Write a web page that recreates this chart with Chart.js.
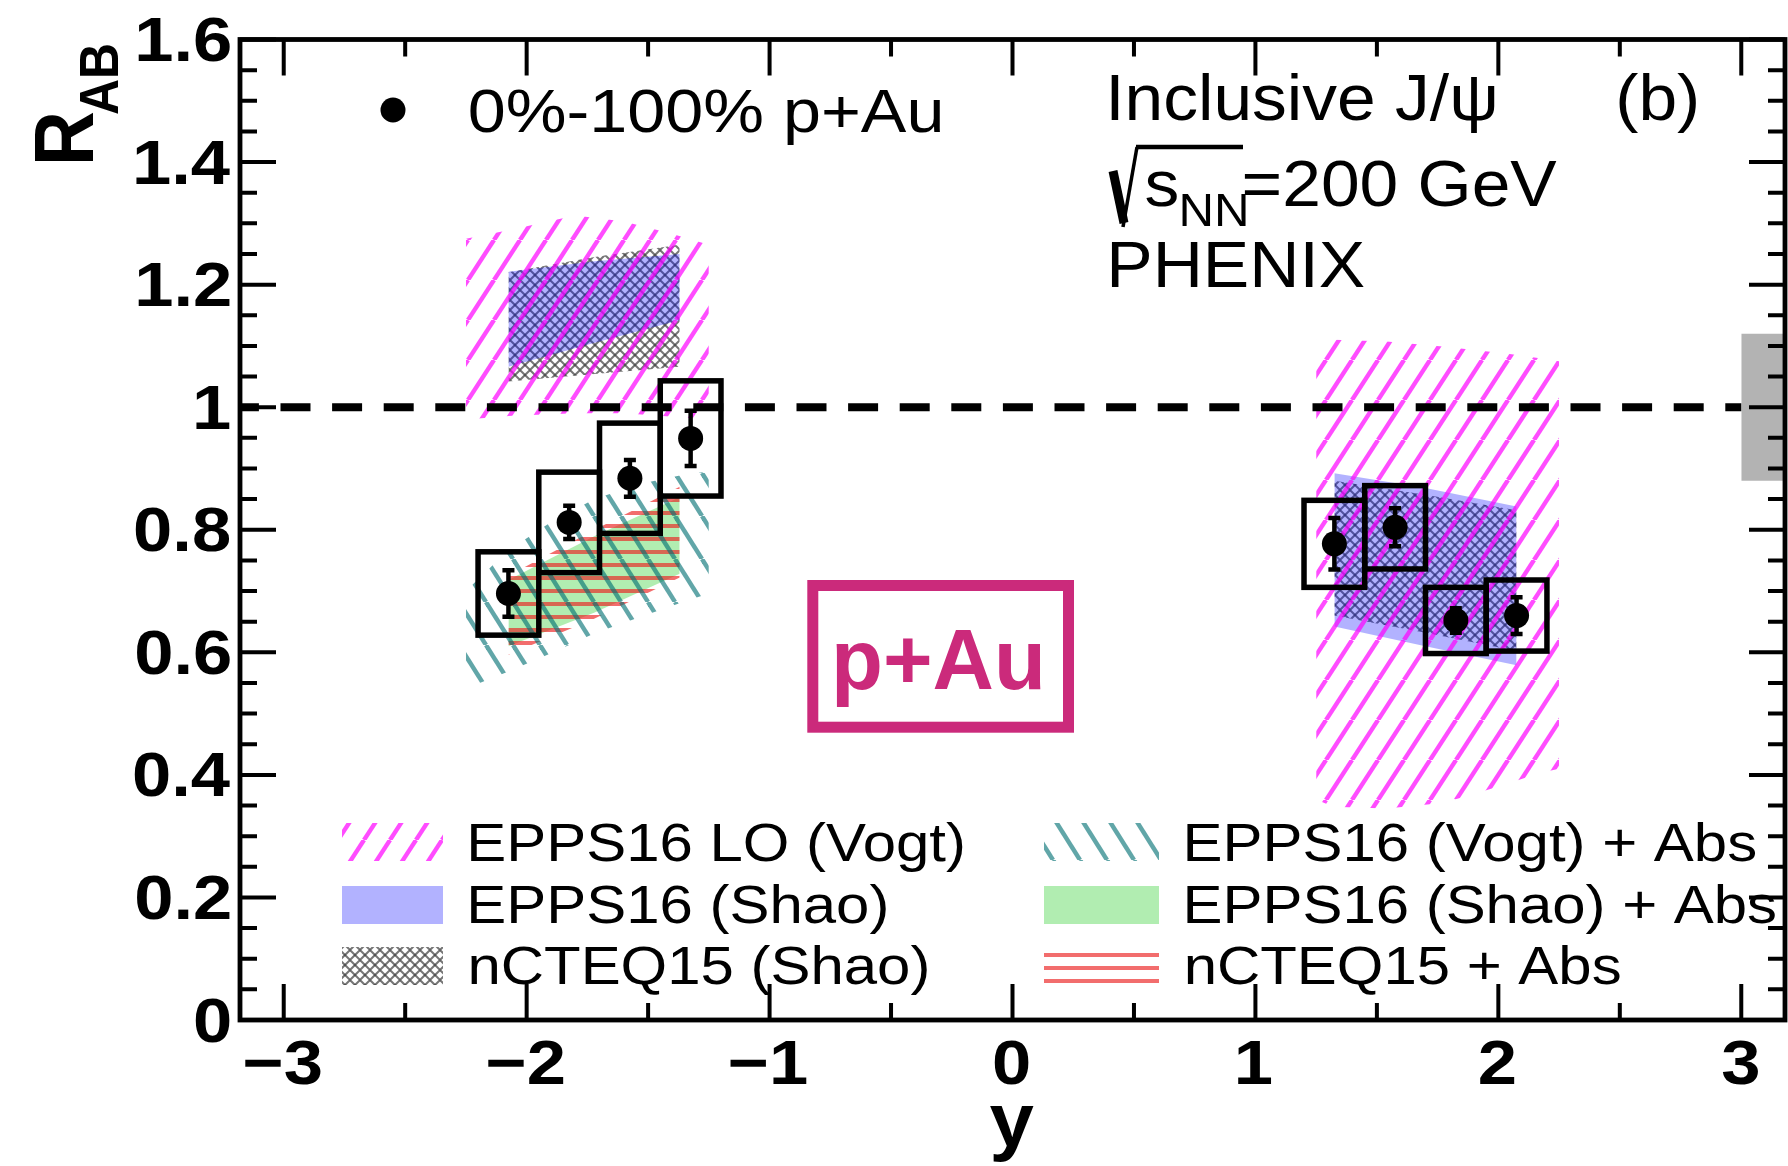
<!DOCTYPE html>
<html lang="en">
<head>
<meta charset="utf-8">
<title>PHENIX inclusive J/psi R_AB in p+Au</title>
<script src="https://cdn.jsdelivr.net/npm/chart.js@4.4.1/dist/chart.umd.min.js"></script>
<style>
  html, body { margin: 0; padding: 0; background: #ffffff; }
  canvas { display: block; }
</style>
</head>
<body>
<canvas id="rab" width="1788" height="1166"></canvas>
<script>
// ---------------------------------------------------------------------------
// Inclusive J/psi nuclear modification factor, 0%-100% p+Au, sqrt(sNN)=200 GeV
// ---------------------------------------------------------------------------
const rapidity   = [-2.075, -1.825, -1.575, -1.325, 1.325, 1.575, 1.825, 2.075];
const rabValue   = [0.696, 0.812, 0.884, 0.949, 0.777, 0.804, 0.652, 0.660];
const statError  = [0.038, 0.027, 0.030, 0.045, 0.042, 0.031, 0.020, 0.030];
const systError  = [0.068, 0.082, 0.090, 0.094, 0.071, 0.068, 0.054, 0.058];
const binHalfWidth = 0.125;
const globalSyst = 0.12;       // global scale uncertainty box drawn at unity
const globalSystFrom = 3.0;

// Model bands: rapidity nodes with lower / upper R_AB
const vogtLoBwdY  = [-2.25, -2.06, -1.80, -1.60, -1.41, -1.25];
const vogtLoBwdLo = [0.980, 0.986, 0.990, 0.990, 0.985, 0.980];
const vogtLoBwdHi = [1.275, 1.290, 1.313, 1.303, 1.284, 1.265];
const vogtLoFwdY  = [1.25, 1.32, 1.54, 1.77, 1.91, 2.04, 2.17, 2.25];
const vogtLoFwdLo = [0.360, 0.348, 0.345, 0.354, 0.370, 0.386, 0.403, 0.410];
const vogtLoFwdHi = [1.110, 1.110, 1.107, 1.099, 1.093, 1.087, 1.080, 1.075];

const shaoBwdY  = [-2.075, -1.72, -1.37];
const shaoBwdLo = [1.066, 1.105, 1.142];
const shaoBwdHi = [1.221, 1.238, 1.250];
const shaoFwdY  = [1.325, 1.70, 2.075];
const shaoFwdLo = [0.642, 0.610, 0.579];
const shaoFwdHi = [0.892, 0.868, 0.838];

const ncteqBwdY  = [-2.075, -1.72, -1.37];
const ncteqBwdLo = [1.042, 1.054, 1.066];
const ncteqBwdHi = [1.220, 1.245, 1.265];
const ncteqFwdY  = [1.325, 1.70, 2.075];
const ncteqFwdLo = [0.660, 0.632, 0.602];
const ncteqFwdHi = [0.880, 0.857, 0.832];

const vogtAbsBwdY  = [-2.25, -2.08, -1.89, -1.72, -1.53, -1.35, -1.25];
const vogtAbsBwdLo = [0.541, 0.568, 0.600, 0.631, 0.658, 0.683, 0.696];
const vogtAbsBwdHi = [0.700, 0.765, 0.815, 0.850, 0.875, 0.890, 0.895];

const shaoAbsBwdY  = [-2.075, -1.72, -1.37];
const shaoAbsBwdLo = [0.610, 0.665, 0.728];
const shaoAbsBwdHi = [0.718, 0.790, 0.853];

const ncteqAbsBwdY  = [-2.075, -1.72, -1.37];
const ncteqAbsBwdLo = [0.596, 0.655, 0.722];
const ncteqAbsBwdHi = [0.725, 0.800, 0.870];

// Axes
const X_MIN = -3.18, X_MAX = 3.18, Y_MIN = 0, Y_MAX = 1.6;
const xTickValues = [-3, -2, -1, 0, 1, 2, 3];
const xTickLabels = ['\u22123', '\u22122', '\u22121', '0', '1', '2', '3'];
const yTickValues = [0, 0.2, 0.4, 0.6, 0.8, 1.0, 1.2, 1.4, 1.6];
const yTickLabels = ['0', '0.2', '0.4', '0.6', '0.8', '1', '1.2', '1.4', '1.6'];
const xMinorStep = 0.5, yMinorStep = 0.05;

const modelLabels = ['EPPS16 LO (Vogt)', 'EPPS16 (Shao)', 'nCTEQ15 (Shao)',
                     'EPPS16 (Vogt) + Abs', 'EPPS16 (Shao) + Abs', 'nCTEQ15 + Abs'];
const dataLabel = '0%-100% p+Au';

// ---------------------------------------------------------------------------
const canvas = document.getElementById('rab');
const ctx = canvas.getContext('2d');

function tilePattern(w, h, paint) {
  const t = document.createElement('canvas');
  t.width = w; t.height = h;
  paint(t.getContext('2d'), w, h);
  return ctx.createPattern(t, 'repeat');
}
function diagonalHatch(color, lineWidth, spacing, angleDeg, rising) {
  const h = Math.round(spacing * Math.tan(angleDeg * Math.PI / 180));
  return tilePattern(spacing, h, (g, w, hh) => {
    g.strokeStyle = color; g.lineWidth = lineWidth;
    for (const o of [-w, 0, w]) {
      g.beginPath();
      if (rising) { g.moveTo(o, hh); g.lineTo(o + w, 0); }
      else { g.moveTo(o, 0); g.lineTo(o + w, hh); }
      g.stroke();
    }
  });
}
const magentaHatch = diagonalHatch('rgba(255,0,255,0.7)', 4.4, 26, 57, true);
const tealHatch    = diagonalHatch('rgba(0,112,115,0.62)', 4.4, 27, 58, false);
const redLines = tilePattern(16, 13, (g, w) => {
  g.fillStyle = 'rgba(235,30,30,0.65)';
  g.fillRect(0, 4, w, 4);
});
const meshPattern = tilePattern(10, 10, (g, w, h) => {
  g.strokeStyle = 'rgba(60,60,60,0.7)'; g.lineWidth = 2;
  for (const o of [-w, 0, w]) {
    g.beginPath(); g.moveTo(o, 0); g.lineTo(o + w, h); g.stroke();
    g.beginPath(); g.moveTo(o, h); g.lineTo(o + w, 0); g.stroke();
  }
});
const blueFill  = 'rgba(0,0,255,0.3)';
const greenFill = 'rgba(60,210,60,0.4)';
const globalFill = '#b3b3b3';

// ---------------------------------------------------------------------------
const datasets = [];
function addBand(label, ys, lo, hi, fillStyle, order) {
  datasets.push({
    label, data: ys.map((x, i) => ({ x, y: hi[i] })),
    fill: '+1', backgroundColor: fillStyle,
    borderColor: 'rgba(0,0,0,0)', borderWidth: 0, pointRadius: 0, order
  });
  datasets.push({
    label: label + ' lower', data: ys.map((x, i) => ({ x, y: lo[i] })),
    fill: false, borderColor: 'rgba(0,0,0,0)', borderWidth: 0, pointRadius: 0, order
  });
}

// data points on top (lowest order is drawn last)
datasets.push({
  label: dataLabel,
  data: rapidity.map((x, i) => ({ x, y: rabValue[i] })),
  showLine: false, pointRadius: 12.5, pointHoverRadius: 12.5,
  pointBackgroundColor: '#000', pointBorderColor: '#000', pointBorderWidth: 0,
  order: 0
});
datasets.push({
  label: 'unity',
  data: [{ x: X_MIN, y: 1 }, { x: globalSystFrom, y: 1 }],
  borderColor: '#000', borderWidth: 8, borderDash: [30, 21.6], borderDashOffset: 11.1,
  pointRadius: 0, fill: false, order: 5
});
addBand(modelLabels[3] + ' bwd', vogtAbsBwdY, vogtAbsBwdLo, vogtAbsBwdHi, tealHatch, 14);
addBand(modelLabels[5] + ' bwd', ncteqAbsBwdY, ncteqAbsBwdLo, ncteqAbsBwdHi, redLines, 15);
addBand(modelLabels[4] + ' bwd', shaoAbsBwdY, shaoAbsBwdLo, shaoAbsBwdHi, greenFill, 16);
addBand(modelLabels[0] + ' bwd', vogtLoBwdY, vogtLoBwdLo, vogtLoBwdHi, magentaHatch, 17);
addBand(modelLabels[0] + ' fwd', vogtLoFwdY, vogtLoFwdLo, vogtLoFwdHi, magentaHatch, 17);
addBand(modelLabels[1] + ' bwd', shaoBwdY, shaoBwdLo, shaoBwdHi, blueFill, 18);
addBand(modelLabels[1] + ' fwd', shaoFwdY, shaoFwdLo, shaoFwdHi, blueFill, 18);
addBand(modelLabels[2] + ' bwd', ncteqBwdY, ncteqBwdLo, ncteqBwdHi, meshPattern, 19);
addBand(modelLabels[2] + ' fwd', ncteqFwdY, ncteqFwdLo, ncteqFwdHi, meshPattern, 19);
addBand('global', [globalSystFrom, X_MAX], [1 - globalSyst, 1 - globalSyst],
        [1 + globalSyst, 1 + globalSyst], globalFill, 30);

// ---------------------------------------------------------------------------
const SANS = '"Liberation Sans", Arial, Helvetica, sans-serif';

// text whose ink box is anchored at (x, baseline y), stretched horizontally by sx
function inkText(c, str, x, y, font, sx, anchor) {
  c.save();
  c.font = font;
  c.textAlign = 'left';
  c.textBaseline = 'alphabetic';
  const m = c.measureText(str);
  let ox;
  if (anchor === 'right') ox = x - m.actualBoundingBoxRight * sx;
  else if (anchor === 'center') ox = x - (m.actualBoundingBoxRight - m.actualBoundingBoxLeft) / 2 * sx;
  else ox = x + m.actualBoundingBoxLeft * sx;
  c.translate(ox, y);
  c.scale(sx, 1);
  c.fillText(str, 0, 0);
  c.restore();
  return m;
}

function drawMeasurementErrors(chart) {
  const c = chart.ctx, xs = chart.scales.x, ys = chart.scales.y;
  c.save();
  c.strokeStyle = '#000';
  c.lineWidth = 5.5;
  rapidity.forEach((r, i) => {
    const x0 = xs.getPixelForValue(r - binHalfWidth);
    const x1 = xs.getPixelForValue(r + binHalfWidth);
    const y0 = ys.getPixelForValue(rabValue[i] + systError[i]);
    const y1 = ys.getPixelForValue(rabValue[i] - systError[i]);
    c.strokeRect(x0, y0, x1 - x0, y1 - y0);
  });
  c.lineWidth = 4.5;
  rapidity.forEach((r, i) => {
    const px = xs.getPixelForValue(r);
    const yt = ys.getPixelForValue(rabValue[i] + statError[i]);
    const yb = ys.getPixelForValue(rabValue[i] - statError[i]);
    c.beginPath(); c.moveTo(px, yt); c.lineTo(px, yb); c.stroke();
    c.beginPath();
    c.moveTo(px - 6, yt); c.lineTo(px + 6, yt);
    c.moveTo(px - 6, yb); c.lineTo(px + 6, yb);
    c.stroke();
  });
  c.restore();
}

function drawFrameAndAxes(chart) {
  const c = chart.ctx, a = chart.chartArea, xs = chart.scales.x, ys = chart.scales.y;
  c.save();
  c.strokeStyle = '#000';
  c.lineWidth = 4;
  c.lineCap = 'butt';
  const majorLen = 36, minorLen = 17;
  // x ticks (bottom and top)
  for (let v = Math.ceil(X_MIN / xMinorStep) * xMinorStep; v <= X_MAX + 1e-9; v += xMinorStep) {
    const isMajor = xTickValues.some(t => Math.abs(t - v) < 1e-6);
    const len = isMajor ? majorLen : minorLen;
    const px = xs.getPixelForValue(v);
    c.beginPath();
    c.moveTo(px, a.bottom); c.lineTo(px, a.bottom - len);
    c.moveTo(px, a.top); c.lineTo(px, a.top + len);
    c.stroke();
  }
  // y ticks (left and right)
  for (let k = 0; k * yMinorStep <= Y_MAX + 1e-9; k++) {
    const v = k * yMinorStep;
    const isMajor = yTickValues.some(t => Math.abs(t - v) < 1e-6);
    const len = isMajor ? majorLen : minorLen;
    const py = ys.getPixelForValue(v);
    c.beginPath();
    c.moveTo(a.left, py); c.lineTo(a.left + len, py);
    c.moveTo(a.right, py); c.lineTo(a.right - len, py);
    c.stroke();
  }
  // frame
  c.lineWidth = 4.8;
  c.strokeRect(a.left, a.top, a.right - a.left, a.bottom - a.top);

  // tick labels
  c.fillStyle = '#000';
  const tickFont = 'bold 63px ' + SANS;
  c.font = tickFont;
  const m0 = c.measureText('0');
  const yShift = (m0.actualBoundingBoxAscent - m0.actualBoundingBoxDescent) / 2;
  yTickValues.forEach((v, i) => {
    inkText(c, yTickLabels[i], a.left - 10, ys.getPixelForValue(v) + yShift, tickFont, 1.12, 'right');
  });
  xTickValues.forEach((v, i) => {
    inkText(c, xTickLabels[i], xs.getPixelForValue(v) - 1, a.bottom + 42 + yShift, tickFont, 1.12, 'center');
  });

  // axis titles
  inkText(c, 'y', xs.getPixelForValue(0) - 1, 1146, 'bold 76px ' + SANS, 1.05, 'center');
  c.save();
  c.translate(93, 166); c.scale(1.1, 1); c.rotate(-Math.PI / 2);
  c.font = 'bold 76px ' + SANS; c.textBaseline = 'alphabetic'; c.textAlign = 'left';
  c.fillText('R', 0, 0);
  c.restore();
  c.save();
  c.translate(118, 115); c.scale(1.1, 1); c.rotate(-Math.PI / 2);
  c.font = 'bold 50px ' + SANS; c.textBaseline = 'alphabetic'; c.textAlign = 'left';
  c.fillText('AB', 0, 0);
  c.restore();
  c.restore();
}

function drawTexts(chart) {
  const c = chart.ctx;
  c.save();
  c.fillStyle = '#000';
  // measurement legend
  c.beginPath(); c.arc(393, 110, 12.5, 0, Math.PI * 2); c.fill();
  inkText(c, dataLabel, 470, 131.5, '61px ' + SANS, 1.12, 'left');

  // header
  const hf = '65px ' + SANS;
  inkText(c, 'Inclusive J/\u03C8', 1111.6, 119.5, hf, 1.07, 'left');
  inkText(c, '(b)', 1619.5, 119.5, hf, 1.07, 'left');
  inkText(c, 'PHENIX', 1111.6, 287, hf, 1.07, 'left');
  // sqrt(s_NN) = 200 GeV
  c.strokeStyle = '#000';
  c.lineCap = 'butt';
  c.lineWidth = 9;
  c.beginPath(); c.moveTo(1113, 171); c.lineTo(1124, 223); c.stroke();
  c.lineWidth = 3.5;
  c.beginPath(); c.moveTo(1123, 227); c.lineTo(1137, 147); c.stroke();
  c.lineWidth = 4.5;
  c.beginPath(); c.moveTo(1136, 147); c.lineTo(1243, 147); c.stroke();
  inkText(c, 's', 1145.5, 206, hf, 1.07, 'left');
  inkText(c, 'NN', 1181.6, 226, '46px ' + SANS, 1.07, 'left');
  inkText(c, '=200 GeV', 1244.8, 206, hf, 1.07, 'left');

  // model legend
  const rowTop = [823, 886, 947], rowBase = [861, 923, 984], boxH = 38;
  const fills = [magentaHatch, blueFill, meshPattern, tealHatch, greenFill, redLines];
  const lf = '53.5px ' + SANS;
  modelLabels.forEach((lab, i) => {
    const col = i < 3 ? 0 : 1, row = i % 3;
    const bx = col === 0 ? 342 : 1044, bw = col === 0 ? 101 : 115;
    c.fillStyle = fills[i];
    c.fillRect(bx, rowTop[row], bw, boxH);
    c.fillStyle = '#000';
    inkText(c, lab, col === 0 ? 470.8 : 1187, rowBase[row], lf, 1.12, 'left');
  });

  // system tag
  c.strokeStyle = '#cb2a7b';
  c.lineWidth = 11;
  c.strokeRect(812.8, 585.5, 255.7, 141.7);
  c.fillStyle = '#cb2a7b';
  inkText(c, 'p+Au', 938.5, 689, 'bold 85px ' + SANS, 1.0, 'center');
  c.restore();
}

const decorations = {
  id: 'phenixDecorations',
  beforeDraw(chart) {
    const c = chart.ctx;
    c.save(); c.fillStyle = '#fff'; c.fillRect(0, 0, chart.width, chart.height); c.restore();
  },
  beforeDatasetDraw(chart, args) {
    if (chart.data.datasets[args.index].label === dataLabel) drawMeasurementErrors(chart);
  },
  afterDatasetsDraw(chart) {
    drawFrameAndAxes(chart);
    drawTexts(chart);
  }
};

new Chart(ctx, {
  type: 'line',
  data: { datasets },
  options: {
    responsive: false,
    animation: false,
    devicePixelRatio: 1,
    events: [],
    layout: { autoPadding: false, padding: { left: 240, right: 3, top: 39.5, bottom: 146 } },
    scales: {
      x: { type: 'linear', min: X_MIN, max: X_MAX, display: false },
      y: { type: 'linear', min: Y_MIN, max: Y_MAX, display: false }
    },
    elements: { line: { tension: 0 } },
    plugins: { legend: { display: false }, tooltip: { enabled: false } }
  },
  plugins: [decorations]
});
</script>
</body>
</html>
